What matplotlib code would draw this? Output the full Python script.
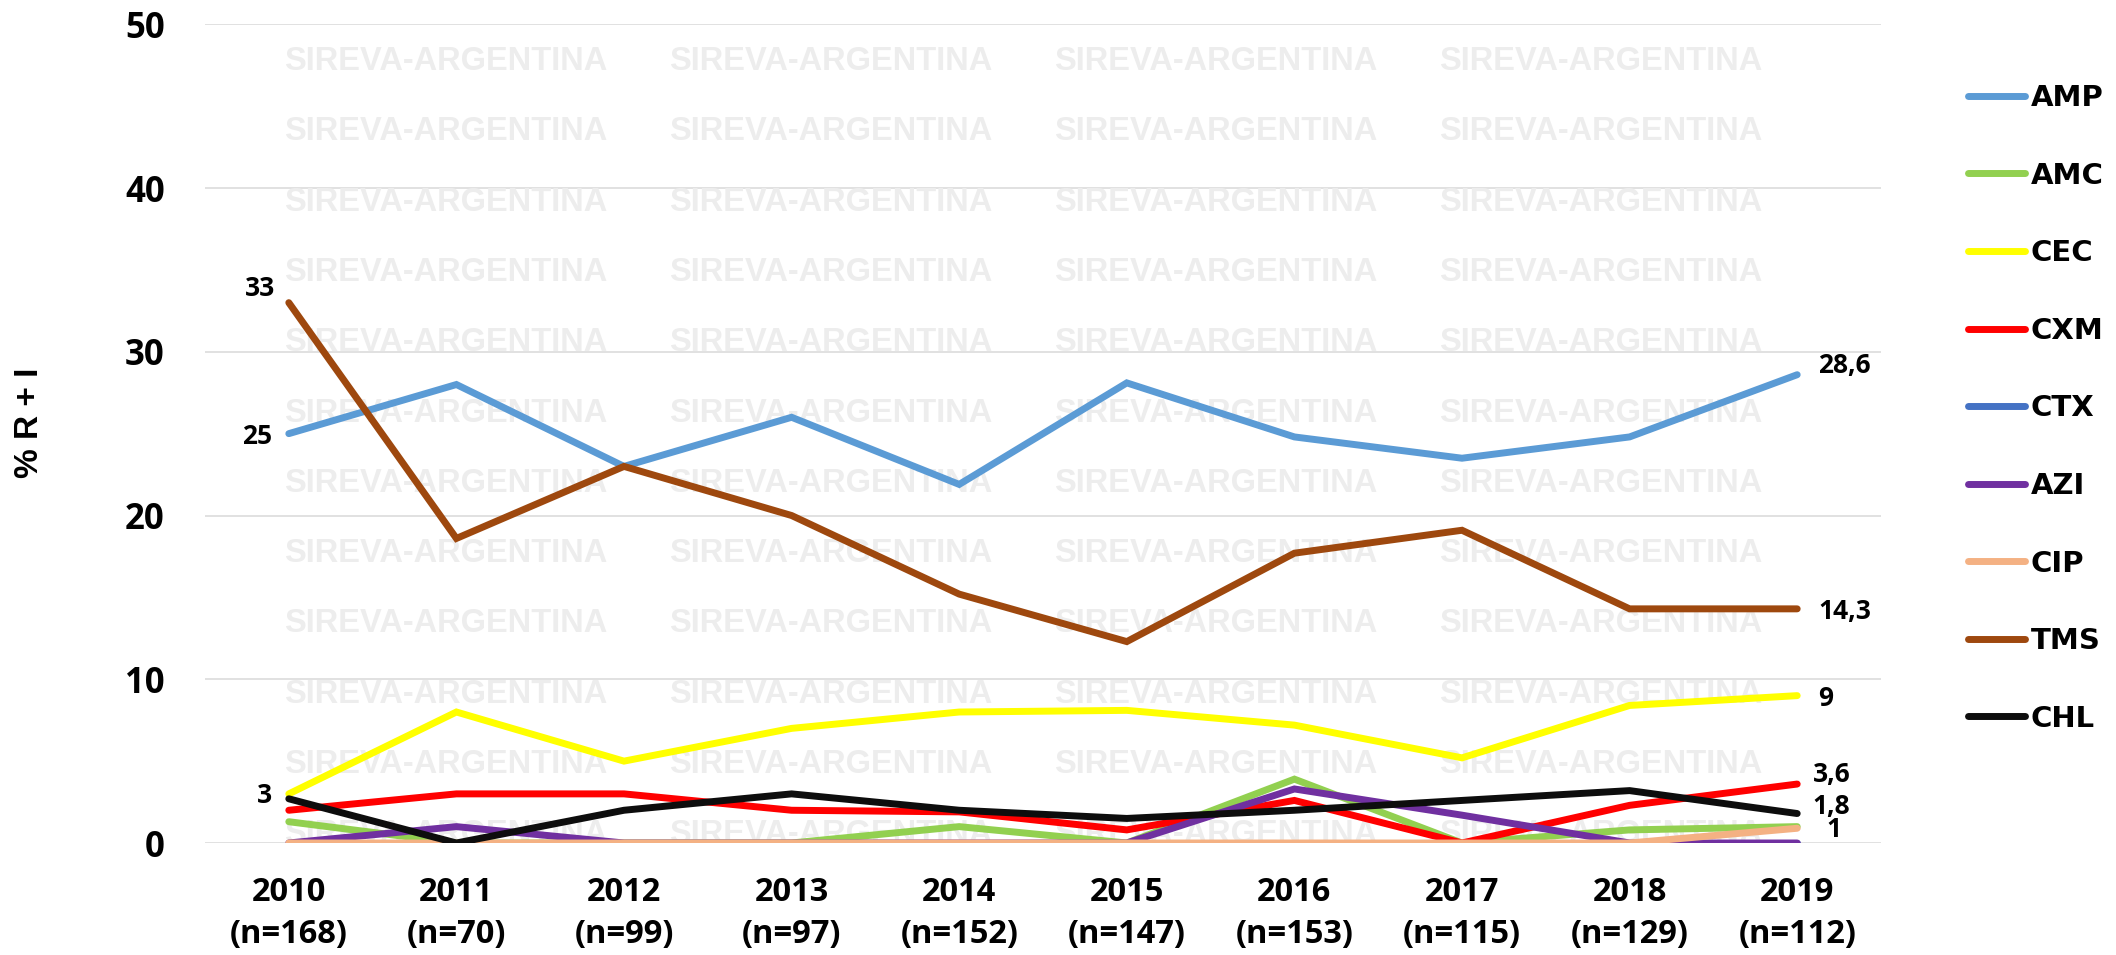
import numpy as np
import matplotlib
matplotlib.use("Agg")
import matplotlib.pyplot as plt

plt.rcParams['font.family'] = ['Open Sans', 'DejaVu Sans']

# data
years = ['2010', '2011', '2012', '2013', '2014', '2015', '2016', '2017', '2018', '2019']
n_isolates = [168, 70, 99, 97, 152, 147, 153, 115, 129, 112]

amp = [25, 28, 23, 26, 21.9, 28.1, 24.8, 23.5, 24.8, 28.6]
amc = [1.3, 0, 0, 0, 1.0, 0, 3.9, 0, 0.8, 1.0]
cec = [3, 8, 5, 7, 8, 8.1, 7.2, 5.2, 8.4, 9]
cxm = [2, 3, 3, 2, 1.9, 0.8, 2.6, 0, 2.3, 3.6]
ctx = [0, 0, 0, 0, 0, 0, 0, 0, 0, 0]
azi = [0, 1, 0, 0, 0, 0, 3.3, 1.7, 0, 0]
cip = [0, 0, 0, 0, 0, 0, 0, 0, 0, 0.9]
tms = [33, 18.6, 23, 20, 15.2, 12.3, 17.7, 19.1, 14.3, 14.3]
chl = [2.7, 0, 2, 3, 2, 1.5, 2.0, 2.6, 3.2, 1.8]

series = {'AMP': amp, 'AMC': amc, 'CEC': cec, 'CXM': cxm, 'CTX': ctx,
          'AZI': azi, 'CIP': cip, 'TMS': tms, 'CHL': chl}
colors = {'AMP': '#5B9BD5', 'AMC': '#92D050', 'CEC': '#FFFF00', 'CXM': '#FF0000',
          'CTX': '#4472C4', 'AZI': '#7030A0', 'CIP': '#F4B183', 'TMS': '#9E480E',
          'CHL': '#0D0D0D'}

# (series, point index, x offset pt, y offset pt, ha)
point_labels = [('AMP', 0, -12, 0, 'right'), ('TMS', 0, -10, 12, 'right'),
                ('CEC', 0, -12, 1, 'right'),
                ('AMP', 9, 15, 9, 'left'), ('TMS', 9, 15, 0, 'left'),
                ('CEC', 9, 15, 0, 'left'), ('CXM', 9, 11, 9, 'left'),
                ('CHL', 9, 11, 7, 'left'), ('AMC', 9, 21, 0, 'left')]

W, H = 2116, 955
fig = plt.figure(figsize=(W / 100, H / 100), dpi=100)
ax = fig.add_axes([205 / W, 112 / H, (1881 - 205) / W, (843 - 24.3) / H])

x = np.arange(len(years))
for name, vals in series.items():
    ax.plot(x, vals, color=colors[name], lw=5, solid_capstyle='round',
            solid_joinstyle='miter', label=name, zorder=3)

ax.set_xlim(-0.5, len(years) - 0.5)
ax.set_ylim(0, 50)
ax.set_yticks(np.arange(0, 51, 10))
ax.yaxis.grid(True, color='#D9D9D9', lw=1.1)
ax.set_axisbelow(True)
for s in ax.spines.values():
    s.set_visible(False)

ax.set_xticks(x)
ax.set_xticklabels([f'{y}\n(n={n})' for y, n in zip(years, n_isolates)],
                   fontsize=23.5, fontweight='bold', linespacing=1.35)
ax.tick_params(axis='x', length=0, pad=24)
ax.tick_params(axis='y', length=0, pad=29, labelsize=25)
for t in ax.get_yticklabels():
    t.set_fontweight('bold')

ax.set_ylabel('% R + I', fontsize=24, fontweight='bold', rotation=90,
              family=['Liberation Sans', 'DejaVu Sans'],
              ha='center', va='center', rotation_mode='anchor')
ax.yaxis.set_label_coords((30 - 205) / 1676, (843 - 423) / 818.7)

# watermark
for cx in [446, 831, 1216, 1601]:
    for k in range(12):
        cy = 59 + 70.3 * k
        ax.text(cx / W, 1 - (cy + 11) / H, 'SIREVA-ARGENTINA', transform=fig.transFigure,
                ha='center', va='baseline', fontsize=23.5, fontweight='bold',
                family=['Liberation Sans', 'DejaVu Sans'], color='#EDEDED', zorder=1)

for name, i, dx, dy, ha in point_labels:
    v = series[name][i]
    txt = f'{v:g}'.replace('.', ',')
    ax.annotate(txt, (x[i], v), xytext=(dx, dy), textcoords='offset points',
                ha=ha, va='center_baseline', fontsize=19, fontweight='bold', zorder=4)

handles, labels = ax.get_legend_handles_labels()
fig.legend(handles, labels, loc='upper left', bbox_to_anchor=(1968 / W, 1 - 84 / H),
           frameon=False, borderpad=0, borderaxespad=0, handlelength=1.95,
           handletextpad=0.2, labelspacing=1.7,
           prop={'family': 'DejaVu Sans', 'weight': 'bold', 'size': 21})

fig.savefig('out.png', dpi=100)
